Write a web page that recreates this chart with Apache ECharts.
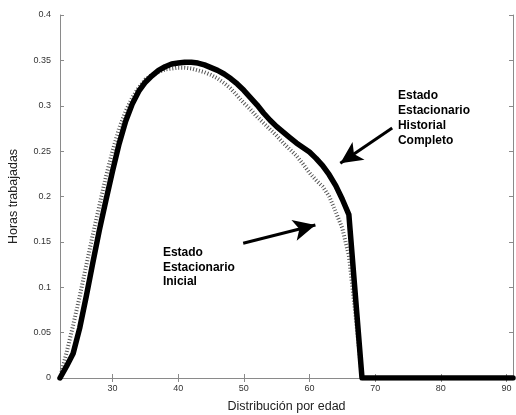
<!DOCTYPE html>
<html>
<head>
<meta charset="utf-8">
<script src="https://cdn.jsdelivr.net/npm/echarts@6/dist/echarts.min.js"></script>
<style>html,body{margin:0;padding:0;background:#fff}#c{width:516px;height:415px}</style>
</head>
<body>
<div id="c"></div>
<script>
// Ages 22..91
var ages = [22,23,24,25,26,27,28,29,30,31,32,33,34,35,36,37,38,39,40,41,42,43,44,45,46,47,48,49,50,51,52,53,54,55,56,57,58,59,60,61,62,63,64,65,66,67,68,69,70,71,72,73,74,75,76,77,78,79,80,81,82,83,84,85,86,87,88,89,90,91];
// Estado Estacionario Historial Completo (bold)
var historial = [0,0.013,0.027,0.055,0.090,0.127,0.163,0.196,0.228,0.258,0.283,0.302,0.316,0.326,0.333,0.339,0.343,0.346,0.347,0.348,0.348,0.347,0.345,0.342,0.339,0.335,0.330,0.324,0.317,0.309,0.301,0.292,0.284,0.277,0.271,0.265,0.259,0.254,0.249,0.242,0.234,0.224,0.212,0.197,0.180,0.090,0,0,0,0,0,0,0,0,0,0,0,0,0,0,0,0,0,0,0,0,0,0,0,0];
// Estado Estacionario Inicial (dotted)
var inicial = [0,0.028,0.058,0.090,0.124,0.158,0.190,0.222,0.250,0.275,0.294,0.309,0.320,0.329,0.334,0.337,0.340,0.341,0.342,0.342,0.341,0.339,0.337,0.334,0.330,0.325,0.319,0.311,0.303,0.296,0.288,0.281,0.274,0.267,0.259,0.252,0.245,0.236,0.226,0.218,0.211,0.200,0.183,0.165,0.135,0.070,0,0,0,0,0,0,0,0,0,0,0,0,0,0,0,0,0,0,0,0,0,0,0,0];
var xTicks = [30,40,50,60,70,80,90];
var yTicks = [0,0.05,0.1,0.15,0.2,0.25,0.3,0.35,0.4];
var yTickLabels = ['0','0.05','0.1','0.15','0.2','0.25','0.3','0.35','0.4'];
var labelHistorial = 'Estado\nEstacionario\nHistorial\nCompleto';
var labelInicial = 'Estado\nEstacionario\nInicial';
// arrows: [start, tip] in data coords
var arrowHistorial = [[72.6, 0.2755], [64.7, 0.2366]];
var arrowInicial = [[49.9, 0.1484], [60.9, 0.1686]];
// label anchor points (left-middle of text block) in data coords
var labelHistorialAt = [73.4, 0.286];
var labelInicialAt = [37.6, 0.122];

function pairs(xs, ys){ return xs.map(function(x,i){ return [x, ys[i]]; }); }

var chart = echarts.init(document.getElementById('c'), null, {renderer:'canvas'});
var axisCol = '#8a8a8a';
var font = 'Liberation Sans, Arial, sans-serif';
var baseX = {
  type:'value', min:22, max:91,
  axisLine:{show:true, lineStyle:{color:axisCol, width:1}},
  splitLine:{show:false}
};
var baseY = {
  type:'value', min:0, max:0.4,
  axisLine:{show:true, lineStyle:{color:axisCol, width:1}},
  splitLine:{show:false}
};
chart.setOption({
  animation:false,
  backgroundColor:'#fff',
  grid:{left:60, right:3, top:15, bottom:37, outerBoundsMode:'none', containLabel:false},
  xAxis:[
    Object.assign({}, baseX, {
      position:'bottom',
      axisTick:{inside:true, length:4, customValues:xTicks, lineStyle:{color:axisCol}},
      axisLabel:{customValues:xTicks, color:'#333', fontSize:9, fontFamily:font, margin:6},
      name:'Distribución por edad', nameLocation:'middle', nameGap:22,
      nameTextStyle:{color:'#222', fontSize:12.5, fontFamily:font}
    }),
    Object.assign({}, baseX, {
      position:'top',
      axisTick:{inside:true, length:4, customValues:xTicks, lineStyle:{color:axisCol}},
      axisLabel:{show:false}
    })
  ],
  yAxis:[
    Object.assign({}, baseY, {
      position:'left',
      axisTick:{inside:true, length:4, customValues:yTicks, lineStyle:{color:axisCol}},
      axisLabel:{customValues:yTicks, color:'#333', fontSize:9, fontFamily:font, margin:9,
        formatter:function(v){ var i = yTicks.findIndex(function(t){return Math.abs(t-v)<1e-9;}); return i>=0? yTickLabels[i] : ''; }},
      name:'Horas trabajadas', nameLocation:'middle', nameGap:40, nameRotate:90,
      nameTextStyle:{color:'#222', fontSize:12.5, fontFamily:font}
    }),
    Object.assign({}, baseY, {
      position:'right',
      axisTick:{inside:true, length:4, customValues:yTicks, lineStyle:{color:axisCol}},
      axisLabel:{show:false}
    })
  ],
  series:[
    {
      type:'line', name:'Inicial', data:pairs(ages, inicial),
      showSymbol:false, symbol:'none', z:2,
      lineStyle:{color:'#555', width:4, type:[1,2]}
    },
    {
      type:'line', name:'Historial', data:pairs(ages, historial),
      showSymbol:false, symbol:'none', z:3,
      lineStyle:{color:'#000', width:5.5, join:'round', cap:'round'},
      markLine:{
        silent:true, animation:false,
        symbol:['none','arrow'], symbolSize:[16,22],
        lineStyle:{color:'#000', width:3, type:'solid'},
        label:{show:false},
        data:[
          [{coord:arrowHistorial[0]},{coord:arrowHistorial[1]}],
          [{coord:arrowInicial[0]},{coord:arrowInicial[1]}]
        ]
      },
      markPoint:{
        silent:true, symbol:'rect', symbolSize:1,
        itemStyle:{color:'rgba(0,0,0,0)'},
        label:{show:true, position:'right', distance:0, color:'#000', fontSize:12, fontWeight:'bold', fontFamily:font, align:'left'},
        data:[
          {coord:labelHistorialAt, value:labelHistorial, label:{formatter:labelHistorial, lineHeight:15}},
          {coord:labelInicialAt, value:labelInicial, label:{formatter:labelInicial, lineHeight:14.5}}
        ]
      }
    }
  ]
});
</script>
</body>
</html>
